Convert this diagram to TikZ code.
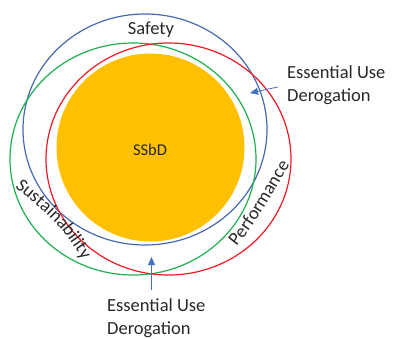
\documentclass[tikz,border=0pt]{standalone}
\usepackage{fontspec}
\setmainfont{Carlito}
\usepackage{tikz}
\usetikzlibrary{arrows.meta}
\usetikzlibrary{decorations.text}

\definecolor{ringblue}{RGB}{70,105,175}
\definecolor{ringgreen}{RGB}{30,176,80}
\definecolor{ringred}{RGB}{240,25,35}
\definecolor{coreorange}{RGB}{255,192,0}
\definecolor{pointblue}{RGB}{68,114,196}
\definecolor{txt}{RGB}{40,40,40}

\newcommand\labelfont{\fontsize{18.5}{22.7}\selectfont}
\newcommand\ringfont{\fontsize{18.5}{22.7}\selectfont\color{txt}}

\tikzset{
  ring/.style={line width=1.2pt},
  pointer/.style={pointblue,line width=0.8pt,-{Triangle[length=8pt,width=7pt]},shorten <=9pt},
  label/.style={text=txt,font=\labelfont,inner sep=0pt}
}

\begin{document}
\begin{tikzpicture}[x=1pt,y=-1pt]
  \useasboundingbox (0,0) rectangle (393,338);
  \coordinate (O) at (150.5,147.5);
  \coordinate (B) at (145,129.5);
  \coordinate (G) at (133,159);
  \coordinate (R) at (168.5,159);
  % arrow tips
  \coordinate (T1) at (250,93);
  \coordinate (T2) at (151.5,257);

  \fill[coreorange] (O) circle [radius=94];
  \draw[ring,ringblue] (B) ellipse [x radius=122, y radius=115.5];
  \draw[ring,ringgreen] (G) ellipse [x radius=123, y radius=116];
  \draw[ring,ringred] (R) ellipse [x radius=122.5, y radius=116];

  \node[label,anchor=base] (safety) at (151,34.3) {Safety};
  \node[label,anchor=base,font=\fontsize{16.5}{20}\selectfont] (ssbd) at (150,155) {SSbD};

  % labels bent round the rings
  \path[decorate,decoration={text along path,text={|\ringfont|Sustainability}}]
    (15,187) .. controls (59.6,224.4) .. (87.3,267);
  \path[decorate,decoration={text along path,text={|\ringfont|Performance}}]
    (236.7,246.7) .. controls (254,224.6) .. (291,163);

  \node[label,anchor=west,align=left] (eur) at (287,85) {Essential Use\\Derogation};
  \node[label,anchor=west,align=left] (eub) at (107,318.5) {Essential Use\\Derogation};

  \draw[pointer] (eur.west) -- (T1);
  \draw[pointer] (T2 |- eub.north) -- (T2);
\end{tikzpicture}
\end{document}
